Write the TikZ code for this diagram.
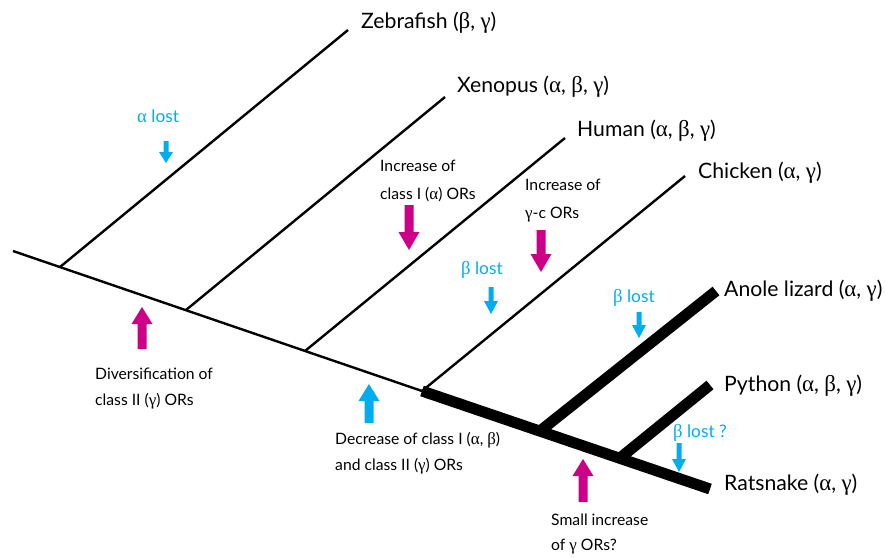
\documentclass[tikz,border=0pt]{standalone}
\usepackage{fontspec}
\setmainfont{Lato}
\newfontfamily\greekfont[Scale=1.08]{Liberation Serif}
\newcommand\galpha{{\greekfont α}}
\newcommand\gbeta{{\greekfont β}}
\newcommand\ggamma{{\greekfont γ}}
\definecolor{lossblue}{RGB}{0,174,239}
\definecolor{gainpink}{RGB}{204,0,136}
\begin{document}
\begin{tikzpicture}[x=1pt,y=-1pt,
  thinbr/.style={line width=2.4pt},
  thickbr/.style={line width=11pt},
  taxon/.style={anchor=base west, inner sep=0pt, font=\fontsize{21.2}{25}\selectfont},
  note/.style={anchor=base west, inner sep=0pt, font=\fontsize{15.7}{19}\selectfont},
  lossnote/.style={anchor=base west, inner sep=0pt, font=\fontsize{17.3}{20}\selectfont, text=lossblue},
  % block arrow pointing down, tip at the origin: length/shaft half width/head half width/head length/colour
  pics/blockdown/.style args={#1/#2/#3/#4/#5}{code={
    \fill[#5] (0,0) -- (-#3,-#4) -- (-#2,-#4) -- (-#2,-#1) -- (#2,-#1) -- (#2,-#4) -- (#3,-#4) -- cycle;}},
]
\useasboundingbox (0,0) rectangle (885,557);

% junctions along the backbone
\coordinate (root) at (13,251);
\coordinate (jZ) at (60,267);
\coordinate (jX) at (186,310);
\coordinate (jH) at (305,351);
\coordinate (jS) at (422,391);
\coordinate (jA) at (540,431);
\coordinate (jP) at (620,458);
\coordinate (tipR) at (710,489);

% branch tips
\coordinate (tipZ) at (348,30);
\coordinate (tipX) at (445,97);
\coordinate (tipH) at (565,138);
\coordinate (tipC) at (685,176);
\coordinate (tipA) at (716,291);
\coordinate (tipP) at (710,385);

% tree
\draw[thinbr] (root) -- (jS);
\draw[thinbr] (jZ) -- (tipZ);
\draw[thinbr] (jX) -- (tipX);
\draw[thinbr] (jH) -- (tipH);
\draw[thinbr] (jS) -- (tipC);
\draw[thickbr] (jS) -- (tipR);
\draw[thickbr] (jA) -- (tipA);
\draw[thickbr] (jP) -- (tipP);

% taxa
\node[taxon] (zeb) at (361,28) {Zebrafish (\gbeta, \ggamma)};
\node[taxon] (xen) at (457,92) {Xenopus (\galpha, \gbeta, \ggamma)};
\node[taxon] (hum) at (577,136) {Human (\galpha, \gbeta, \ggamma)};
\node[taxon] (chk) at (698,178) {Chicken (\galpha, \ggamma)};
\node[taxon] (ano) at (724,296) {Anole lizard (\galpha, \ggamma)};
\node[taxon] (pyt) at (724,391) {Python (\galpha, \gbeta, \ggamma)};
\node[taxon] (rat) at (724,490) {Ratsnake (\galpha, \ggamma)};

% losses
\node[lossnote] (lossA) at (137,122) {\galpha{} lost};
\pic (arrA) at (166,163) {blockdown=22/2.5/7/11/lossblue};
\node[lossnote] (lossC) at (461,274) {\gbeta{} lost};
\pic (arrC) at (491,314) {blockdown=27/2.5/7/13/lossblue};
\node[lossnote] (lossL) at (613,302) {\gbeta{} lost};
\pic (arrL) at (639,338) {blockdown=26/2.5/7/13/lossblue};
\node[lossnote] (lossR) at (673,437) {\gbeta{} lost ?};
\pic (arrR) at (679,472) {blockdown=29/2.5/7/13/lossblue};

% gains and decreases
\node[note] (incA1) at (380,171) {Increase of};
\node[note] (incA2) at (380,199) {class I (\galpha) ORs};
\pic (arrIA) at (409,250) {blockdown=45/4.5/10.5/18/gainpink};

\node[note] (incG1) at (525,190) {Increase of};
\node[note] (incG2) at (525,218) {\ggamma-c ORs};
\pic (arrIG) at (541,272) {blockdown=42/4.5/10.5/18/gainpink};

\pic[rotate=180] (arrDv) at (142,307) {blockdown=42/4.5/10.5/17/gainpink};
\node[note] (div1) at (95,379) {Diversification of};
\node[note] (div2) at (95,405) {class II (\ggamma) ORs};

\pic[rotate=180] (arrDc) at (369,384) {blockdown=39/4.5/10.5/17/lossblue};
\node[note] (dec1) at (335,444) {Decrease of class I (\galpha, \gbeta)};
\node[note] (dec2) at (335,470) {and class II (\ggamma) ORs};

\pic[rotate=180] (arrSm) at (583,459) {blockdown=43/4.5/10.5/17/gainpink};
\node[note] (sm1) at (551,525) {Small increase};
\node[note] (sm2) at (551,550) {of \ggamma{} ORs?};
\end{tikzpicture}
\end{document}
